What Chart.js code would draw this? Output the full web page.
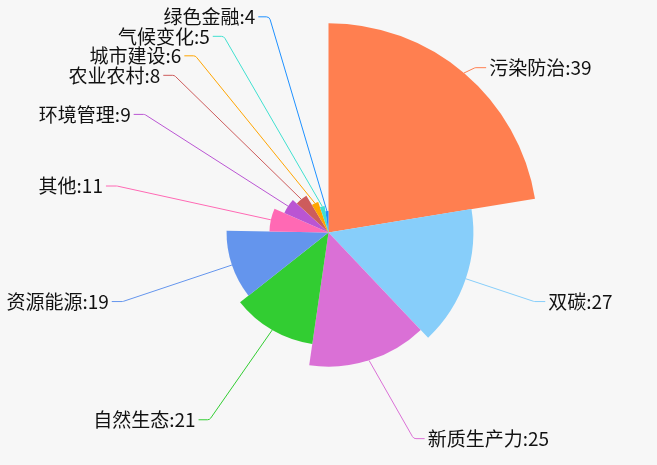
<!DOCTYPE html>
<html>
<head>
<meta charset="utf-8">
<script src="https://cdn.jsdelivr.net/npm/chart.js@4/dist/chart.umd.min.js"></script>
<style>
  html, body { margin: 0; padding: 0; background: #f7f7f7; }
  #wrap { width: 657px; height: 465px; position: relative; }
</style>
</head>
<body>
<div id="wrap"><canvas id="c"></canvas></div>
<script>
// ---- data ----
const categories = ['污染防治', '双碳', '新质生产力', '自然生态', '资源能源', '其他', '环境管理', '农业农村', '城市建设', '气候变化', '绿色金融'];
const values = [39, 27, 25, 21, 19, 11, 9, 8, 6, 5, 4];
const colors = ['#ff7f50', '#87cefa', '#da70d6', '#32cd32', '#6495ed', '#ff69b4', '#ba55d3', '#cd5c5c', '#ffa500', '#40e0d0', '#1e90ff'];

// ---- layout settings ----
const LABEL_FONT = '19px "Noto Sans CJK SC", "Noto Sans", sans-serif';
const LINE_LEN1 = 7;     // radial gap beyond outer radius
const LINE_LEN2 = 11;    // horizontal segment
const TEXT_GAP = 3;
const ROW_H = 19.5;
const MIN_LABEL_Y = 16;
const ELLIPSE_EXTRA = 8;

const rosePlugin = {
  id: 'rose',
  afterDatasetsUpdate(chart) {
    const meta = chart.getDatasetMeta(0);
    const maxR = meta.controller.outerRadius;
    const vals = chart.data.datasets[0].data;
    const maxV = Math.max(...vals);
    meta.data.forEach((arc, i) => {
      arc.outerRadius = maxR * vals[i] / maxV;
      arc.innerRadius = 0;
    });
  }
};

const labelPlugin = {
  id: 'roseLabels',
  afterDatasetsDraw(chart) {
    const ctx = chart.ctx;
    const meta = chart.getDatasetMeta(0);
    const maxR = meta.controller.outerRadius;
    const labels = chart.data.labels;
    const vals = chart.data.datasets[0].data;
    const cols = chart.data.datasets[0].backgroundColor;
    const Rl = maxR + LINE_LEN1;
    const rB = Rl + ELLIPSE_EXTRA;
    const items = meta.data.map((arc, i) => {
      const a = (arc.startAngle + arc.endAngle) / 2;
      return {
        i,
        cx: arc.x, cy: arc.y,
        ax: arc.x + Math.cos(a) * arc.outerRadius,
        ay: arc.y + Math.sin(a) * arc.outerRadius,
        y: arc.y + Math.sin(a) * Rl,
        dir: Math.cos(a) >= 0 ? 1 : -1
      };
    });
    [1, -1].forEach(dir => {
      const side = items.filter(it => it.dir === dir).sort((p, q) => p.y - q.y);
      let last = -Infinity;
      side.forEach((it, k) => {
        let y = Math.max(it.y, k === 0 ? MIN_LABEL_Y : last + ROW_H);
        if (k === 0) y = Math.max(y, MIN_LABEL_Y);
        it.y = y;
        last = y;
      });
    });
    ctx.save();
    ctx.font = LABEL_FONT;
    ctx.textBaseline = 'middle';
    items.forEach(it => {
      const dy = it.y - it.cy;
      const dx = Rl * Math.sqrt(Math.max(0, 1 - (dy * dy) / (rB * rB)));
      const ex = it.cx + it.dir * dx;
      const ey = it.y;
      const tx = ex + it.dir * LINE_LEN2;
      ctx.strokeStyle = cols[it.i];
      ctx.lineWidth = 1;
      ctx.beginPath();
      ctx.moveTo(it.ax, it.ay);
      ctx.arcTo(ex, ey, tx, ey, 4);
      ctx.lineTo(tx, ey);
      ctx.stroke();
      ctx.fillStyle = '#111';
      ctx.textAlign = it.dir > 0 ? 'left' : 'right';
      ctx.fillText(labels[it.i] + ':' + vals[it.i], tx + it.dir * TEXT_GAP, ey);
    });
    ctx.restore();
  }
};

new Chart(document.getElementById('c'), {
  type: 'pie',
  data: {
    labels: categories,
    datasets: [{
      data: values,
      backgroundColor: colors,
      borderWidth: 0,
      radius: '90%'
    }]
  },
  options: {
    responsive: true,
    maintainAspectRatio: false,
    animation: false,
    events: [],
    layout: { padding: 0 },
    plugins: {
      legend: { display: false },
      tooltip: { enabled: false }
    }
  },
  plugins: [rosePlugin, labelPlugin]
});
</script>
</body>
</html>
